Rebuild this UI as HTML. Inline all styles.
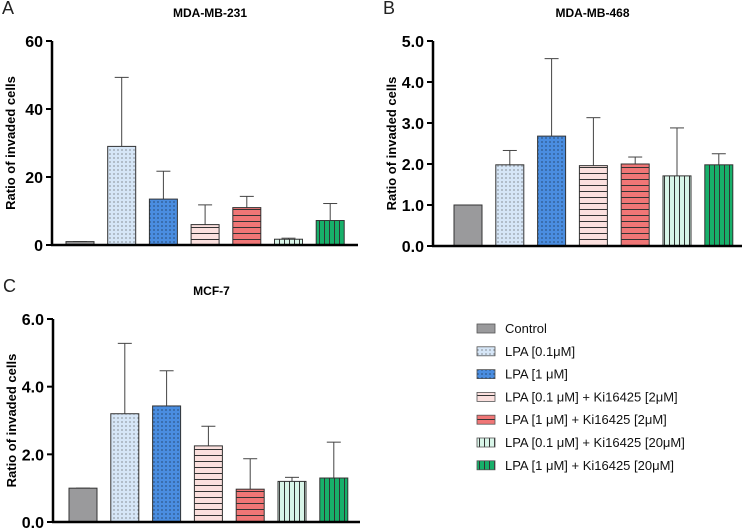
<!DOCTYPE html>
<html><head><meta charset="utf-8"><style>
body{margin:0;background:#fff;}
svg{display:block;font-family:"Liberation Sans",Arial,sans-serif;}
</style></head><body>
<svg id="c" width="749" height="531" viewBox="0 0 749 531">
<defs>
<pattern id="dotL" width="4" height="4" patternUnits="userSpaceOnUse"><rect width="4" height="4" fill="#d6e6f7"/><circle cx="2" cy="2" r="0.6" fill="#555"/></pattern>
<pattern id="dotB" width="4" height="4" patternUnits="userSpaceOnUse"><rect width="4" height="4" fill="#4a8de0"/><circle cx="2" cy="2" r="0.6" fill="#123"/></pattern>
<pattern id="hP" width="6" height="6" patternUnits="userSpaceOnUse"><rect width="6" height="6" fill="#fbe0de"/><line x1="0" y1="5.5" x2="6" y2="5.5" stroke="#333" stroke-width="1"/></pattern>
<pattern id="hR" width="6" height="6" patternUnits="userSpaceOnUse"><rect width="6" height="6" fill="#f07676"/><line x1="0" y1="5.5" x2="6" y2="5.5" stroke="#333" stroke-width="1"/></pattern>
<pattern id="vL" width="5" height="5" patternUnits="userSpaceOnUse"><rect width="5" height="5" fill="#d8f5e8"/><line x1="4.5" y1="0" x2="4.5" y2="5" stroke="#333" stroke-width="1"/></pattern>
<pattern id="vG" width="5" height="5" patternUnits="userSpaceOnUse"><rect width="5" height="5" fill="#17b06a"/><line x1="4.5" y1="0" x2="4.5" y2="5" stroke="#333" stroke-width="1"/></pattern>
</defs>
</svg>
<script>
const groups=["Control","LPA [0.1μM]","LPA [1 μM]","LPA [0.1 μM] + Ki16425 [2μM]","LPA [1 μM] + Ki16425 [2μM]","LPA [0.1 μM] + Ki16425 [20μM]","LPA [1 μM] + Ki16425 [20μM]"];
const fills=["#9a9a9c","url(#dotL)","url(#dotB)","url(#hP)","url(#hR)","url(#vL)","url(#vG)"];
const valsA=[1,29,13.5,6,11,1.7,7.2];
const errA=[1,49.3,21.7,11.8,14.3,2,12.2];
const ticksA=["0","20","40","60"];
const valsB=[1.0,1.98,2.68,1.96,2.0,1.71,1.98];
const errB=[1.0,2.33,4.57,3.13,2.17,2.88,2.25];
const ticksB=["0.0","1.0","2.0","3.0","4.0","5.0"];
const valsC=[1.0,3.2,3.43,2.25,0.97,1.2,1.3];
const errC=[1.0,5.28,4.47,2.83,1.87,1.32,2.36];
const ticksC=["0.0","2.0","4.0","6.0"];
const svg=document.getElementById('c');
const NS="http://www.w3.org/2000/svg";
function mk(t,a,p){const e=document.createElementNS(NS,t);for(const k in a)e.setAttribute(k,a[k]);(p||svg).appendChild(e);return e;}
function panel(key,letter,title,ax,x0,x1,yTop,yBot,ymax,vals,errs,ticks,firstBar,step){
  const g=mk('g',{});
  
  
  const ys=v=>yBot-(v/ymax)*(yBot-yTop);
  const L=mk('text',{x:ax-50,y:yTop-27,'font-size':18,fill:'#222'},g);L.textContent=letter;
  
  const T=mk('text',{x:(ax+x1)/2+5,y:yTop-24,'font-size':12,'font-weight':'bold','text-anchor':'middle'},g);T.textContent=title;
  
  const Y=mk('text',{transform:`translate(${ax-37},${(yTop+yBot)/2}) rotate(-90)`,'font-size':13,'font-weight':'bold','text-anchor':'middle'},g);Y.textContent='Ratio of invaded cells';
  
  ticks.forEach(t=>{const v=parseFloat(t),y=ys(v);
    mk('line',{x1:ax-6,y1:y,x2:ax,y2:y,stroke:'#000','stroke-width':2},g);
    const tt=mk('text',{x:ax-9,y:y+6,'font-size':16,'font-weight':'bold','text-anchor':'end'},g);tt.textContent=t;
    });
  vals.forEach((v,i)=>{const bx=firstBar+i*step,w=28,bt=ys(v);
    const ex=bx+w/2;
    const el=mk('line',{x1:ex,y1:ys(errs[i]),x2:ex,y2:bt,stroke:'#444','stroke-width':1},g);
    
    mk('line',{x1:ex-7,y1:ys(errs[i]),x2:ex+7,y2:ys(errs[i]),stroke:'#444','stroke-width':1},g);
    const r=mk('rect',{x:bx,y:bt,width:w,height:yBot-bt,fill:fills[i],stroke:'#333','stroke-width':1},g);
    });
  const a1=mk('line',{x1:ax,y1:yTop,x2:ax,y2:yBot+1,stroke:'#000','stroke-width':2.5},g);
  
  const a2=mk('line',{x1:ax-1,y1:yBot,x2:x1,y2:yBot,stroke:'#000','stroke-width':2.5},g);
  
}
panel('a','A','MDA-MB-231',52,52,358,41,245,60,valsA,errA,ticksA,66,41.7);
panel('b','B','MDA-MB-468',433,433,742,41,246,5,valsB,errB,ticksB,454,41.8);
panel('c','C','MCF-7',53,53,360,319,522,6,valsC,errC,ticksC,69,41.8);
const lg=mk('g',{});


groups.forEach((n,i)=>{const y=328+i*22.8;
  const s=mk('rect',{x:477,y:y-4,width:18,height:9,fill:fills[i],stroke:'#555','stroke-width':0.8},lg);
  
  const t=mk('text',{x:505,y:y+5,'font-size':13,fill:'#111'},lg);t.textContent=n;
  });
</script>
</body></html>
